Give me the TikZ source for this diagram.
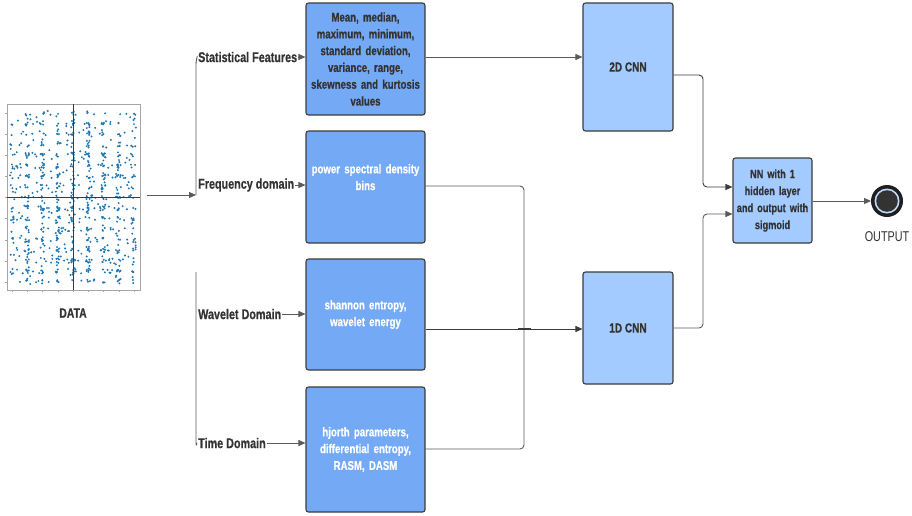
\documentclass[tikz,border=0pt]{standalone}
\usepackage{fontspec}
\setmainfont{Liberation Sans}[FakeStretch=0.76, BoldFeatures={FakeBold=0.6}]
\usetikzlibrary{arrows.meta}
\definecolor{boxblue}{HTML}{74A9F6}
\definecolor{cnnblue}{HTML}{A4CBFF}
\definecolor{edge}{HTML}{3C3C3C}
\definecolor{conn}{HTML}{5A5A5A}
\definecolor{txt}{HTML}{333333}
\definecolor{dotc}{HTML}{1F77B4}
\newcommand{\tightsp}{\spaceskip=0.21em plus 0.05em minus 0.02em\relax}
\tikzset{
  feat/.style={draw=edge, line width=1.1pt, rounded corners=2.5pt, fill=boxblue,
    minimum width=119pt, align=center, text width=116pt, font=\bfseries\fontsize{12.7}{16.8}\selectfont\tightsp, inner sep=1.5pt},
  cnn/.style={draw=edge, line width=1.1pt, rounded corners=2.5pt, fill=cnnblue,
    minimum width=90pt, align=center, font=\bfseries\fontsize{13.2}{16.8}\selectfont\tightsp, text=txt},
  lab/.style={anchor=west, font=\bfseries\fontsize{14.2}{16}\selectfont\tightsp, text=txt, inner sep=1pt},
  conn/.style={draw=conn, line width=0.9pt, rounded corners=4pt},
  arr/.style={conn, -{Triangle[length=7pt,width=6pt]}},
}
\begin{document}
\begin{tikzpicture}[x=1pt,y=-1pt]
\useasboundingbox (0,0) rectangle (912,515);
% scatter plot
\draw[gray!70, line width=0.6pt] (7,104) rectangle (140,290);
\foreach \k in {0,...,8}{
  \draw[gray!70, line width=0.4pt] ({12+\k*15.25},290) -- ({12+\k*15.25},292);
  \draw[gray!70, line width=0.4pt] (7,{282-\k*21.125}) -- (5,{282-\k*21.125});
}
\pgfmathsetseed{7}
\foreach \i in {1,...,900}{
  \pgfmathsetmacro\xa{rnd}
  \pgfmathsetmacro\xb{rnd}
  \pgfmathsetmacro\ya{rnd}
  \pgfmathsetmacro\yb{rnd}
  \pgfmathsetmacro\xv{\xa<0.6 ? round(\xb*8)+1+(rnd-0.5)*0.25 : 1+8*\xb}
  \pgfmathsetmacro\yv{\ya<0.5 ? round(\yb*16)/2+1+(rnd-0.5)*0.2 : 1+8*\yb}
  \fill[dotc] ({12+(\xv-1)*15.25},{282-(\yv-1)*21.125}) circle (1.1pt);
}
\draw[edge, line width=0.6pt] (73,104) -- (73,290);
\draw[edge, line width=0.6pt] (7,197) -- (140,197);
\node[font=\bfseries\fontsize{13.7}{15}\selectfont, text=txt] (data) at (73,313) {DATA};
\coordinate (dataout) at (147,195);
\coordinate (br) at (196,195);

% labels
\node[lab] (lstat) at (197,57) {Statistical Features};
\node[lab] (lfreq) at (197,185) {Frequency domain};
\node[lab] (lwav) at (197,314) {Wavelet Domain};
\node[lab] (ltime) at (197,443) {Time Domain};

% feature boxes
\node[feat, minimum height=112pt, text=txt] (b1) at (365.5,59) {Mean, median,\\maximum, minimum,\\standard deviation,\\variance, range,\\skewness and kurtosis\\values};
\node[feat, minimum height=112pt, text=white] (b2) at (365.5,187) {power spectral density\\bins\\[-2pt]\strut};
\node[feat, minimum height=111pt, text=white] (b3) at (365.5,314.5) {shannon entropy,\\wavelet energy};
\node[feat, minimum height=125pt, text=white] (b4) at (365.5,449.5) {hjorth parameters,\\differential entropy,\\RASM, DASM};

% CNN boxes
\node[cnn, minimum height=128pt] (c2) at (628,67) {\raisebox{-5pt}{2D CNN}};
\node[cnn, minimum height=112pt] (c1) at (628,328) {1D CNN};
% NN box
\node[cnn, minimum width=79pt, minimum height=85pt, text width=78pt, inner sep=0.5pt, font=\bfseries\fontsize{12.1}{17}\selectfont\tightsp] (nn) at (772.5,200.5) {NN with 1\\hidden layer\\and output with\\sigmoid\\[-4pt]};
% output
\fill[black!88] (887,201) circle (16pt);
\fill[cnnblue!70!white] (887,201) circle (12.5pt);
\fill[black!80] (887,201) circle (10.8pt);
\node[font=\fontsize{14.2}{15}\selectfont, text=txt] (olab) at (887,237) {OUTPUT};
\coordinate (out) at (871,201);

% connectors
\draw[arr] (dataout) -- (br);
\draw[conn] (br) -- (196,60) -- (lstat.west);
\draw[conn] (196,272) -- (196,447) -- (ltime.west);
\draw[arr] (lstat.east) -- (lstat.east -| b1.west);
\draw[arr] (lfreq.east) -- (lfreq.east -| b2.west);
\draw[arr] (lwav.east) -- (lwav.east -| b3.west);
\draw[arr] (ltime.east) -- (ltime.east -| b4.west);

\draw[arr] (b1.east |- 0,57) -- (c2.west |- 0,57);
\coordinate (j) at (524,329);
\draw[conn] (b2.east |- 0,186) -| (j);
\draw[conn] (b4.east |- 0,449) -| (j);
\draw[arr, draw=edge] (b3.east |- 0,329) -- (c1.west |- 0,329);
\draw[edge, line width=2.2pt] (518,329) -- (531,329);

\draw[arr, draw=edge] (c2.east |- 0,75) -- (703,75) -- (703,187) -- (nn.west |- 0,187);
\draw[arr] (c1.east |- 0,328) -- (703,328) -- (703,214) -- (nn.west |- 0,214);
\draw[arr] (nn.east |- 0,201) -- (out);
\end{tikzpicture}
\end{document}
